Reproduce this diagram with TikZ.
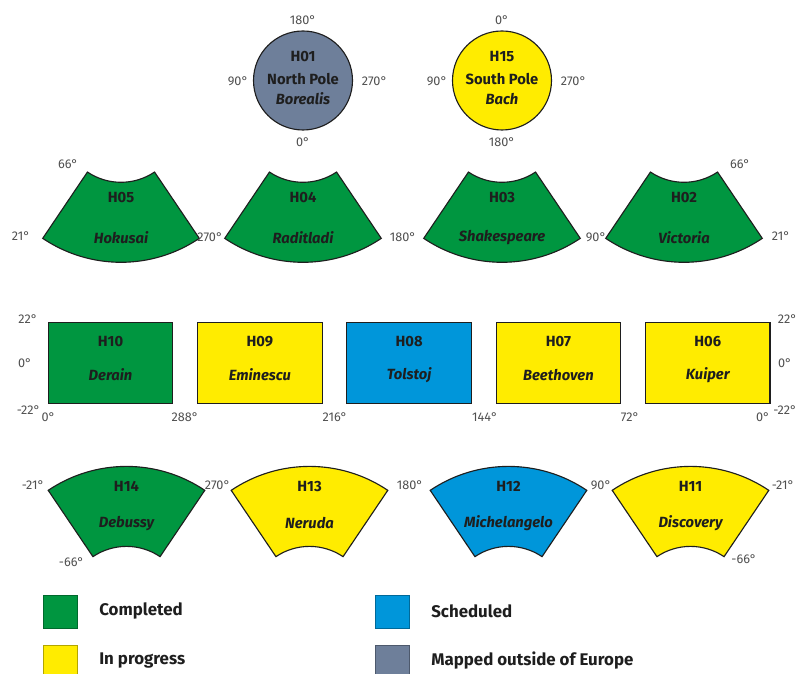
\documentclass[tikz,border=0pt]{standalone}
\usepackage{fontspec}
\setmainfont{Fira Sans}
\usetikzlibrary{calc}
\definecolor{DoneG}{RGB}{0,150,64}
\definecolor{ProgY}{RGB}{255,236,0}
\definecolor{PlanB}{RGB}{0,150,218}
\definecolor{AwayS}{RGB}{110,127,154}
\definecolor{InkD}{RGB}{30,30,30}
\definecolor{DegG}{RGB}{80,80,80}

\begin{document}
\begin{tikzpicture}[x=0.025cm,y=-0.025cm,
    tile/.style={draw=InkD,line width=0.8pt},
    deg/.style={font=\fontsize{9}{11}\selectfont,text=DegG,inner sep=0pt},
    code/.style={font=\fontsize{10.5}{12}\selectfont\bfseries,text=InkD,inner sep=0pt},
    nick/.style={font=\fontsize{10.5}{12}\selectfont\bfseries\itshape,text=InkD,inner sep=0pt},
    key/.style={font=\fontsize{12}{14}\selectfont\bfseries,text=InkD,anchor=west,inner sep=0pt}]
  \useasboundingbox (0,0) rectangle (798,674);
  % poles
  \foreach \n/\cx/\cl/\lbl/\nk/\ta/\tb in {H01/303/AwayS/North Pole/Borealis/180/0,
                                           H15/502/ProgY/South Pole/Bach/0/180}{
    \draw[tile,fill=\cl] (\cx,80.5) circle (49.5);
    \node[code] (\n) at (\cx,57) {\n};
    \node[code] (\n-name) at (\cx,79) {\lbl};
    \node[nick] (\n-nick) at (\cx,99) {\nk};
    \node[deg] (\n-top) at (\cx,20.5) {\ta°};
    \node[deg] (\n-bot) at (\cx,142.5) {\tb°};
    \node[deg] (\n-left) at (\cx-65,81.5) {90°};
    \node[deg] (\n-right) at (\cx+71.5,81.5) {270°};}
  % upper fans
  \foreach \n/\cx/\nk in {H05/121/Hokusai,H04/303/Raditladi,
                          H03/502/Shakespeare,H02/684/Victoria}{
    \coordinate (\n-c) at (\cx,122.3);
    \draw[tile,fill=DoneG] ($(\n-c)+(56:60)$) arc[start angle=56,end angle=124,radius=60]
      -- ($(\n-c)+(124:140)$) arc[start angle=124,end angle=56,radius=140] -- cycle;
    \node[code] (\n) at (\cx,198) {\n};
    \node[nick] (\n-nick) at (\cx,237.5) {\nk};}
  % middle tiles
  \foreach \n/\x/\cl/\nk in {H10/48.3/DoneG/Derain,H09/197.6/ProgY/Eminescu,
                             H08/346.9/PlanB/Tolstoj,H07/496.2/ProgY/Beethoven,
                             H06/645.5/ProgY/Kuiper}{
    \draw[tile,fill=\cl] (\x,322.7) rectangle ++(124.5,80.6);
    \node[code] (\n) at (\x+62.25,341.5) {\n};
    \node[nick] (\n-nick) at (\x+62.25,375) {\nk};}
  % lower fans
  \foreach \n/\cx/\cl/\nk in {H14/126.5/DoneG/Debussy,H13/309.5/ProgY/Neruda,
                              H12/508.5/PlanB/Michelangelo,H11/690.5/ProgY/Discovery}{
    \coordinate (\n-c) at (\cx,606.4);
    \draw[tile,fill=\cl] ($(\n-c)+(236:60)$) arc[start angle=236,end angle=304,radius=60]
      -- ($(\n-c)+(304:140)$) arc[start angle=304,end angle=236,radius=140] -- cycle;
    \node[code] (\n) at (\cx,486.5) {\n};
    \node[nick] (\n-nick) at (\cx,523.5) {\nk};}
  % degree marks
  \foreach \l/\x/\y [count=\i] in {66/68/164,21/21/236,270/210/237,180/403/237.5,
        90/596/237.5,66/740/164,21/781/236,
        22/28/319,0/25/363,-22/28.5/410,0/48.5/417.5,288/185/417.5,216/335/417.5,
        144/485/417.5,72/630/417.5,0/763/417.5,22/787.5/319,0/785/363,-22/785/410,
        -21/33/485,270/217.5/485,180/410/485,90/601/485,-21/783/485,
        -66/71.5/562,-66/744/559}
    \node[deg] (deg\i) at (\x,\y) {\l°};
  % legend
  \foreach \cl/\x/\y/\lbl [count=\i] in {DoneG/43.5/595/Completed,ProgY/43.5/645/In progress,
                                         PlanB/375.5/595/Scheduled,
                                         AwayS/375.5/645/Mapped outside of Europe}{
    \draw[draw=\cl!70!black,line width=0.5pt,fill=\cl] (\x,\y) rectangle ++(33.5,33);
    \node[key] (key\i) at (\x+55.5,\y+16) {\lbl};}
\end{tikzpicture}
\end{document}
